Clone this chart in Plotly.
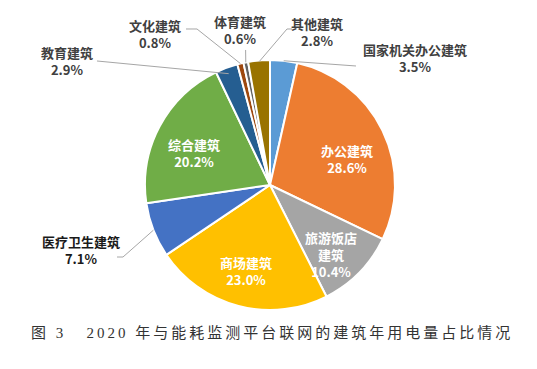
import math
import plotly.graph_objects as go

# ---- data ----
categories = ["国家机关办公建筑", "办公建筑", "旅游饭店建筑", "商场建筑", "医疗卫生建筑",
              "综合建筑", "教育建筑", "文化建筑", "体育建筑", "其他建筑"]
values = [3.5, 28.6, 10.4, 23.0, 7.1, 20.2, 2.9, 0.8, 0.6, 2.8]
label_names = ["国家机关办公建筑", "办公建筑", "旅游饭店<br>建筑", "商场建筑", "医疗卫生建筑",
               "综合建筑", "教育建筑", "文化建筑", "体育建筑", "其他建筑"]
caption = "图 3   2020 年与能耗监测平台联网的建筑年用电量占比情况"

# ---- style ----
colors = ["#5B9BD5", "#ED7D31", "#A5A5A5", "#FFC000", "#4472C4",
          "#70AD47", "#255E91", "#9E480E", "#636363", "#997300"]
W, H = 537, 369
CX, CY, R = 270, 185, 125           # pie centre / radius in pixels

# label placement (pixel centres) and leader-line styling
inside = [False, True, True, True, False, True, False, False, False, False]
label_pos = [(415, 58), (347, 159), (331, 254), (246, 271), (81, 250),
             (194, 153), (67, 61), (155, 34), (240, 30), (317, 32)]
leader_pts = [[(356, 66)], None, None, None, [(123, 257), (117, 257)],
              None, [(97, 61)], [(197, 29), (186, 29)], [(245.6, 50)], [(287, 29), (292, 29)]]
anchor_r = [1.0, 0, 0, 0, 1.0, 0, 0.95, 1.0, 1.0, 0.99]
text_colors = ["#404040"] * 10
text_colors[4] = "#1a1a1a"


def px(x):
    return x / W


def py(y):
    return 1 - y / H


fig = go.Figure(go.Pie(
    labels=categories, values=values, sort=False, direction="clockwise", rotation=0,
    marker=dict(colors=colors, line=dict(color="white", width=2)),
    textinfo="none", hoverinfo="label+percent", showlegend=False,
    domain=dict(x=[px(CX - R), px(CX + R)], y=[py(CY + R), py(CY - R)]),
))

total = sum(values)
annotations = []
shapes = []
cum = 0.0
for i, v in enumerate(values):
    mid = (cum + v / 2) / total * 2 * math.pi
    cum += v
    pct = f"{v:.1f}%"
    lx, ly = label_pos[i]
    color = "white" if inside[i] else text_colors[i]
    annotations.append(dict(
        x=px(lx), y=py(ly), xref="paper", yref="paper", showarrow=False,
        xanchor="center", yanchor="middle",
        text=f"<b>{label_names[i]}<br>{pct}</b>", align="center",
        font=dict(family="Noto Sans CJK SC", size=13, color=color),
    ))
    if leader_pts[i]:
        ax = CX + R * anchor_r[i] * math.sin(mid)
        ay = CY - R * anchor_r[i] * math.cos(mid)
        pts = [(ax, ay)] + leader_pts[i]
        path = "M " + " L ".join(f"{px(x):.5f},{py(y):.5f}" for x, y in pts)
        shapes.append(dict(type="path", path=path, xref="paper", yref="paper",
                           line=dict(color="#A6A6A6", width=1)))

annotations.append(dict(
    x=px(270), y=py(333), xref="paper", yref="paper", showarrow=False,
    xanchor="center", yanchor="middle",
    text="\u2009".join(caption),
    font=dict(family="Liberation Serif, Noto Sans CJK SC", size=15, color="#333333"),
))

fig.update_layout(
    width=W, height=H, margin=dict(l=0, r=0, t=0, b=0),
    paper_bgcolor="white", plot_bgcolor="white",
    annotations=annotations, shapes=shapes,
)

fig.write_html("out.html", config={"displayModeBar": False},
               post_script="document.body.style.margin='0';")
